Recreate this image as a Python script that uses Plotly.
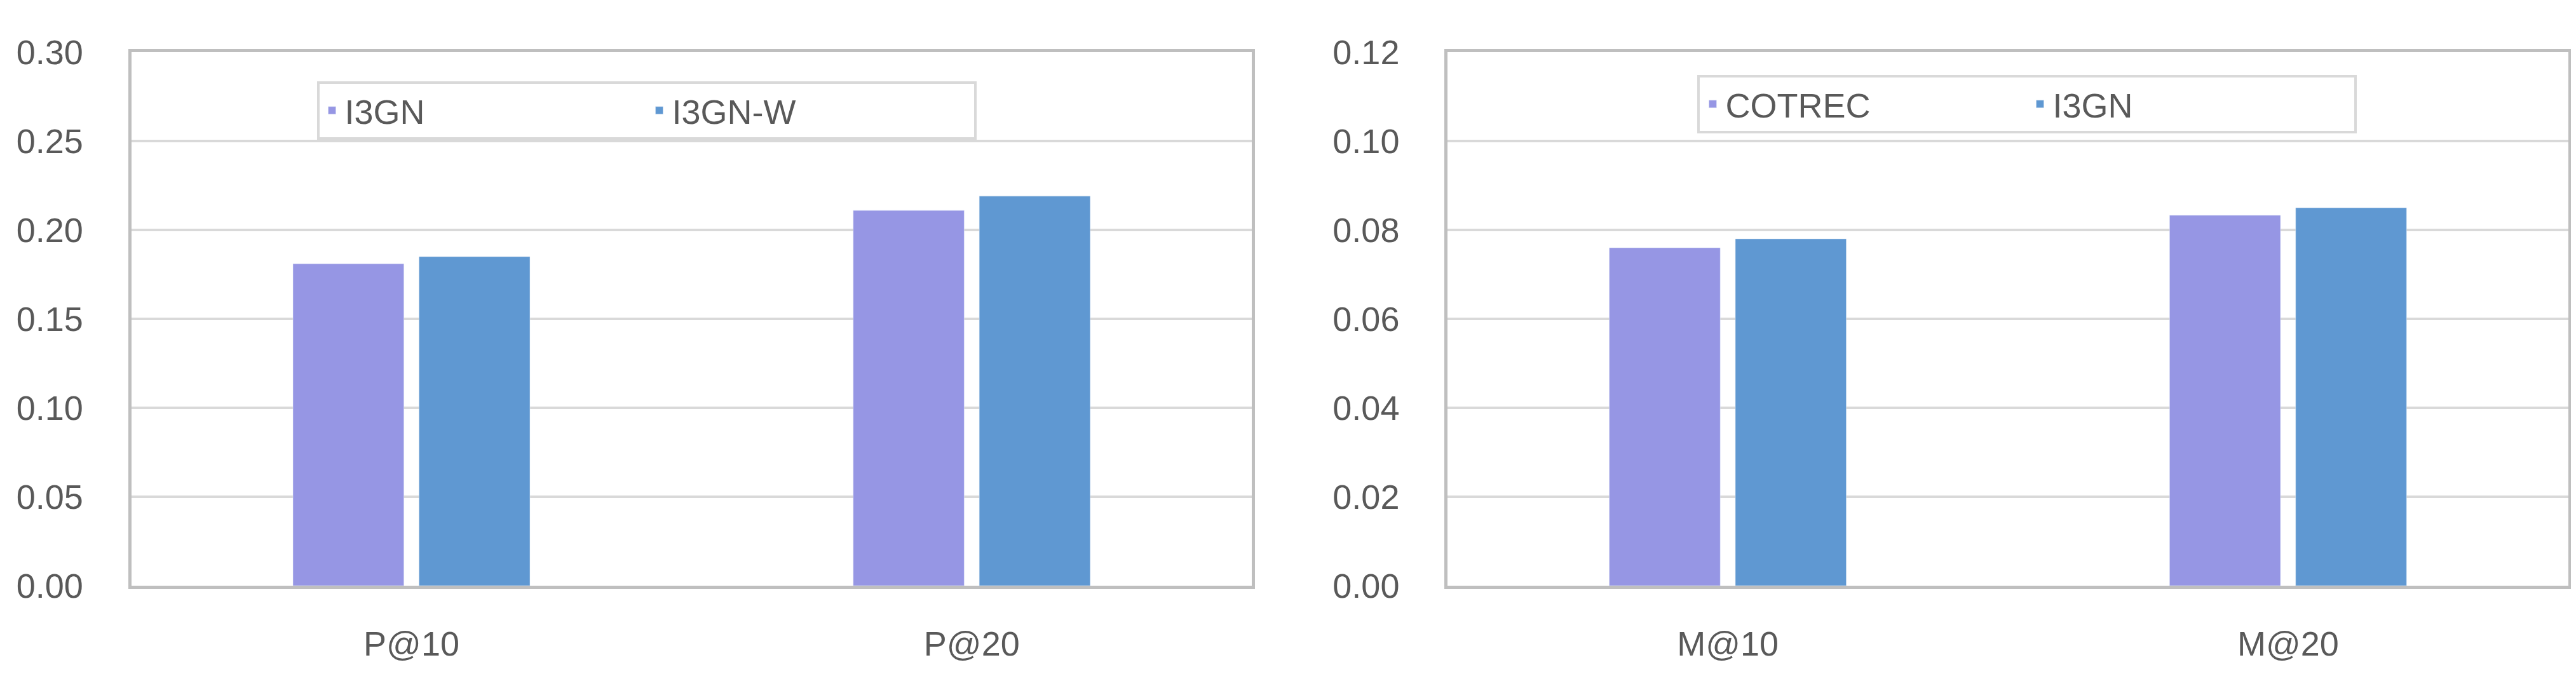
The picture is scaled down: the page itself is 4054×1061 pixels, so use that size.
import plotly.graph_objects as go

cats_left = ["P@10", "P@20"]
i3gn_left = [0.181, 0.211]
i3gnw_left = [0.185, 0.219]
left_ticks = [0.00, 0.05, 0.10, 0.15, 0.20, 0.25, 0.30]

cats_right = ["M@10", "M@20"]
cotrec_right = [0.076, 0.0833]
i3gn_right = [0.078, 0.085]
right_ticks = [0.00, 0.02, 0.04, 0.06, 0.08, 0.10, 0.12]

C1 = "#9696e4"
C2 = "#5f98d2"
TXT = "#595959"

fig = go.Figure()
fig.add_bar(x=cats_left, y=i3gn_left, name="I3GN", marker_color=C1, xaxis="x", yaxis="y", legend="legend")
fig.add_bar(x=cats_left, y=i3gnw_left, name="I3GN-W", marker_color=C2, xaxis="x", yaxis="y", legend="legend")
fig.add_bar(x=cats_right, y=cotrec_right, name="COTREC", marker_color=C1, xaxis="x2", yaxis="y2", legend="legend2")
fig.add_bar(x=cats_right, y=i3gn_right, name="I3GN", marker_color=C2, xaxis="x2", yaxis="y2", legend="legend2")

font = dict(family="Liberation Sans Narrow, Liberation Sans, sans-serif", size=54, color=TXT)
ax = dict(showline=True, linecolor="#bfbfbf", linewidth=5, mirror=True, ticks="", tickfont=font)
yax = dict(ax, showgrid=True, gridcolor="#d9d9d9", gridwidth=4, zeroline=False, ticklen=0)

leg = dict(orientation="h", bordercolor="#d9d9d9", borderwidth=4, bgcolor="white",
           font=font, xanchor="left", yanchor="top", itemwidth=30, entrywidth=470)

fig.update_layout(
    width=4054, height=1061, plot_bgcolor="white", paper_bgcolor="white",
    margin=dict(l=0, r=0, t=0, b=0), barmode="group", bargap=0.55, bargroupgap=0.12,
    font=font,
    xaxis=dict(ax, domain=[0.049, 0.484], anchor="y", ticklabelstandoff=40),
    yaxis=dict(yax, domain=[0.117, 0.956], range=[0, 0.30], tickvals=left_ticks,
               ticktext=[f"{v:.2f}" for v in left_ticks], anchor="x", ticklabelstandoff=60),
    xaxis2=dict(ax, domain=[0.56, 0.995], anchor="y2", ticklabelstandoff=40),
    yaxis2=dict(yax, domain=[0.117, 0.956], range=[0, 0.12], tickvals=right_ticks,
                ticktext=[f"{v:.2f}" for v in right_ticks], anchor="x2", ticklabelstandoff=60),
    legend=dict(leg, x=0.121, y=0.91),
    legend2=dict(leg, x=0.657, y=0.92),
)
fig.write_html("out.html")
